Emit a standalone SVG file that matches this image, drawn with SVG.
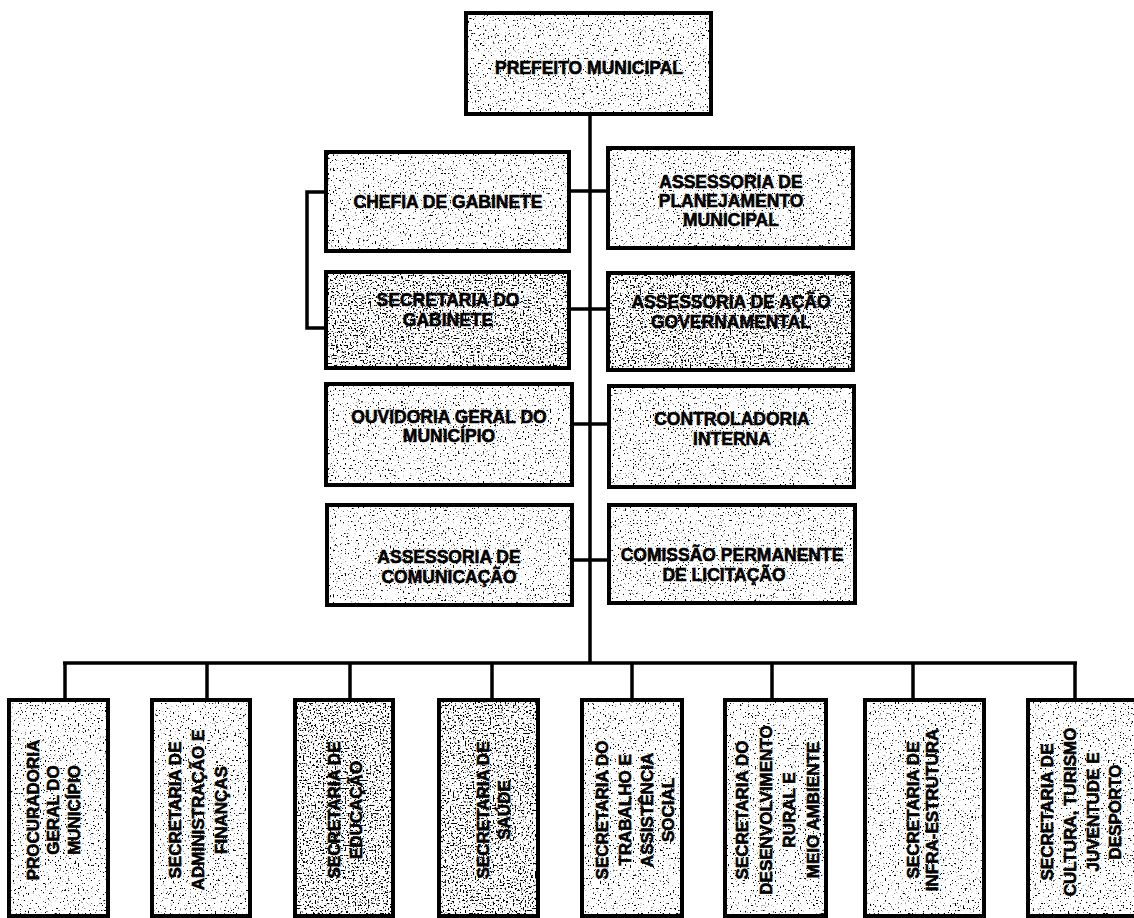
<svg xmlns="http://www.w3.org/2000/svg" width="1134" height="918" viewBox="0 0 1134 918">
<style>
.box{fill:#fff;stroke:#000;stroke-width:4;filter:url(#speck)}
.box.dense{filter:url(#speck2)}
.lbl{font-family:"Liberation Sans",Arial,sans-serif;font-weight:bold;font-size:17.5px;text-anchor:middle;fill:#000;stroke:#000;stroke-width:0.6px}
.vl{font-family:"Liberation Sans",Arial,sans-serif;font-weight:bold;font-size:17px;text-anchor:middle;fill:#000;stroke:#000;stroke-width:0.6px}
.conn{stroke:#000;stroke-width:3.5;fill:none}
</style>
<defs>
<filter id="speck" x="-5%" y="-5%" width="110%" height="110%">
<feTurbulence type="fractalNoise" baseFrequency="0.6" numOctaves="1" seed="7" result="n"/>
<feColorMatrix in="n" type="matrix" values="0 0 0 0 0  0 0 0 0 0  0 0 0 0 0  14 0 0 0 -8.6" result="d"/>
<feComposite in="d" in2="SourceGraphic" operator="in" result="dc"/>
<feMerge><feMergeNode in="SourceGraphic"/><feMergeNode in="dc"/></feMerge>
</filter>
<filter id="speck2" x="-5%" y="-5%" width="110%" height="110%">
<feTurbulence type="fractalNoise" baseFrequency="0.6" numOctaves="1" seed="11" result="n"/>
<feColorMatrix in="n" type="matrix" values="0 0 0 0 0  0 0 0 0 0  0 0 0 0 0  14 0 0 0 -7.8" result="d"/>
<feComposite in="d" in2="SourceGraphic" operator="in" result="dc"/>
<feMerge><feMergeNode in="SourceGraphic"/><feMergeNode in="dc"/></feMerge>
</filter>
</defs>
<rect width="1134" height="918" fill="#fff"/>

<g id="connectors">
<line class="conn" x1="590" y1="114" x2="590" y2="663"/>
<line class="conn" x1="568" y1="191" x2="608" y2="191"/>
<line class="conn" x1="568" y1="309" x2="608" y2="309"/>
<line class="conn" x1="572" y1="424" x2="609" y2="424"/>
<line class="conn" x1="572" y1="560" x2="609" y2="560"/>
<path class="conn" d="M326 192 H307 V328 H326"/>
<line class="conn" x1="63" y1="663" x2="1077" y2="663"/>
<line class="conn" x1="65" y1="663" x2="65" y2="700"/>
<line class="conn" x1="207" y1="663" x2="207" y2="700"/>
<line class="conn" x1="350" y1="663" x2="350" y2="700"/>
<line class="conn" x1="492" y1="663" x2="492" y2="700"/>
<line class="conn" x1="632" y1="663" x2="632" y2="700"/>
<line class="conn" x1="772" y1="663" x2="772" y2="700"/>
<line class="conn" x1="913" y1="663" x2="913" y2="700"/>
<line class="conn" x1="1075" y1="663" x2="1075" y2="700"/>
</g>

<g id="prefeito">
<rect class="box" x="466" y="13" width="245" height="101"/>
<text class="lbl" x="589" y="74">PREFEITO MUNICIPAL</text>
</g>

<g id="chefia-gabinete">
<rect class="box" x="326" y="152" width="243" height="99"/>
<text class="lbl" x="448" y="208">CHEFIA DE GABINETE</text>
</g>

<g id="assessoria-planejamento">
<rect class="box" x="608" y="148" width="245" height="100"/>
<text class="lbl" x="731" y="188">ASSESSORIA DE</text>
<text class="lbl" x="731" y="207">PLANEJAMENTO</text>
<text class="lbl" x="731" y="226">MUNICIPAL</text>
</g>

<g id="secretaria-gabinete">
<rect class="box dense" x="326" y="272" width="243" height="96"/>
<text class="lbl" x="448" y="306">SECRETARIA DO</text>
<text class="lbl" x="448" y="326">GABINETE</text>
</g>

<g id="assessoria-acao">
<rect class="box dense" x="608" y="273" width="245" height="97"/>
<text class="lbl" x="731" y="308">ASSESSORIA DE AÇÃO</text>
<text class="lbl" x="731" y="328">GOVERNAMENTAL</text>
</g>

<g id="ouvidoria">
<rect class="box" x="326" y="384" width="246" height="101"/>
<text class="lbl" x="449" y="423">OUVIDORIA GERAL DO</text>
<text class="lbl" x="449" y="442">MUNICÍPIO</text>
</g>

<g id="controladoria">
<rect class="box" x="609" y="386" width="245" height="101"/>
<text class="lbl" x="732" y="425">CONTROLADORIA</text>
<text class="lbl" x="732" y="445">INTERNA</text>
</g>

<g id="assessoria-comunicacao">
<rect class="box" x="327" y="505" width="245" height="100"/>
<text class="lbl" x="449" y="563">ASSESSORIA DE</text>
<text class="lbl" x="449" y="583">COMUNICAÇÃO</text>
</g>

<g id="comissao-licitacao">
<rect class="box" x="609" y="505" width="246" height="98"/>
<text class="lbl" x="732" y="561">COMISSÃO PERMANENTE</text>
<text class="lbl" x="724" y="581">DE LICITAÇÃO</text>
</g>

<g id="procuradoria">
<rect class="box" x="9" y="700" width="99" height="216"/>
<text class="vl" transform="translate(39,810) rotate(-90)">PROCURADORIA</text>
<text class="vl" transform="translate(59,810) rotate(-90)">GERAL DO</text>
<text class="vl" transform="translate(80,810) rotate(-90)">MUNICÍPIO</text>
</g>

<g id="sec-administracao">
<rect class="box" x="152" y="700" width="98" height="216"/>
<text class="vl" transform="translate(181,810) rotate(-90)">SECRETARIA DE</text>
<text class="vl" transform="translate(204,810) rotate(-90)">ADMINISTRAÇÃO E</text>
<text class="vl" transform="translate(227,810) rotate(-90)">FINANÇAS</text>
</g>

<g id="sec-educacao">
<rect class="box dense" x="295" y="700" width="98" height="216"/>
<text class="vl" transform="translate(340,810) rotate(-90)">SECRETARIA DE</text>
<text class="vl" transform="translate(362,810) rotate(-90)">EDUCAÇÃO</text>
</g>

<g id="sec-saude">
<rect class="box dense" x="439" y="700" width="99" height="216"/>
<text class="vl" transform="translate(489,810) rotate(-90)">SECRETARIA DE</text>
<text class="vl" transform="translate(510,810) rotate(-90)">SAÚDE</text>
</g>

<g id="sec-trabalho">
<rect class="box" x="582" y="700" width="100" height="216"/>
<text class="vl" transform="translate(608,810) rotate(-90)">SECRETARIA DO</text>
<text class="vl" transform="translate(631,810) rotate(-90)">TRABALHO E</text>
<text class="vl" transform="translate(653,810) rotate(-90)">ASSISTÊNCIA</text>
<text class="vl" transform="translate(674,810) rotate(-90)">SOCIAL</text>
</g>

<g id="sec-desenvolvimento">
<rect class="box" x="725" y="700" width="101" height="216"/>
<text class="vl" transform="translate(748,810) rotate(-90)">SECRETARIA DO</text>
<text class="vl" transform="translate(772,810) rotate(-90)">DESENVOLVIMENTO</text>
<text class="vl" transform="translate(795,810) rotate(-90)">RURAL E</text>
<text class="vl" transform="translate(819,810) rotate(-90)">MEIO AMBIENTE</text>
</g>

<g id="sec-infraestrutura">
<rect class="box" x="865" y="700" width="119" height="216"/>
<text class="vl" transform="translate(919,810) rotate(-90)">SECRETARIA DE</text>
<text class="vl" transform="translate(938,810) rotate(-90)">INFRA-ESTRUTURA</text>
</g>

<g id="sec-cultura">
<rect class="box" x="1028" y="700" width="112" height="216"/>
<text class="vl" transform="translate(1053,812) rotate(-90)">SECRETARIA DE</text>
<text class="vl" transform="translate(1076,812) rotate(-90)">CULTURA, TURISMO</text>
<text class="vl" transform="translate(1099,812) rotate(-90)">JUVENTUDE E</text>
<text class="vl" transform="translate(1121,812) rotate(-90)">DESPORTO</text>
</g>
</svg>
